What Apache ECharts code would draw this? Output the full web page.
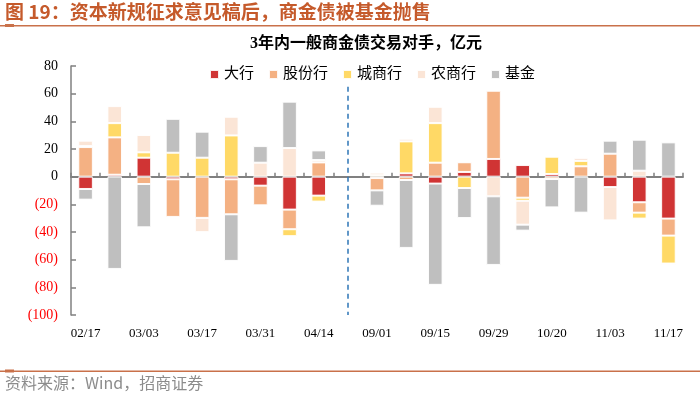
<!DOCTYPE html>
<html>
<head>
<meta charset="utf-8">
<script src="https://cdn.jsdelivr.net/npm/echarts@6/dist/echarts.min.js"></script>
<style>
  html, body { margin: 0; padding: 0; background: #fff; }
  #main { width: 700px; height: 398px; }
</style>
</head>
<body>
<div id="main"></div>
<script>
// weekly dates, index 9 is the gap between the two periods
var categories = ['02/17', '02/24', '03/03', '03/10', '03/17', '03/24', '03/31', '04/07', '04/14', '',
    '09/01', '09/08', '09/15', '09/22', '09/29', '10/13', '10/20', '10/27', '11/03', '11/10', '11/17'];

var dahang = [-8.9, 1.4, 13.7, -1.9, null, -1.9, -6.5, -23.8, -13.7, null,
    -1, 2.4, -5, 3.4, 12.8, 8.4, 1.9, null, -7.5, -18.5, -30.3];
var gufen = [21.4, 27, -5.3, -27.2, -29.8, -25.3, -14.2, -14.2, 10.3, null,
    -8.9, -2.4, 10.1, 7, 49.3, -15.2, -1.7, 7.5, 16.6, -7.5, -12.3];
var chengshang = [0.7, 10.3, 3.9, 17.3, 13.7, 29.8, -0.7, -5, -4.3, null,
    1, 23.1, 28.6, -8.2, null, -2.2, 12.5, 3.9, null, -4.3, -20.2];
var nongshang = [3.9, 12.3, 12.5, null, -10.3, 13.5, 10.1, 20.7, 1.7, null,
    1.9, 1.9, 11.8, 0.5, -14.2, -17.3, 0.7, 2.2, -24.1, 4.3, -1];
var jijin = [-7.7, -66.7, -31.3, 24.5, 18.8, -33.7, 12, 33.5, 7, null,
    -11.1, -49.1, -73.2, -21.7, -49.6, -4.3, -20.5, -26, 9.4, 22.4, 24.8];

var seriesNames = ['大行', '股份行', '城商行', '农商行', '基金'];
var colors = ['#d03434', '#f4b183', '#ffd966', '#fbe5d6', '#bfbfbf'];
var seriesData = [dahang, gufen, chengshang, nongshang, jijin];

var serif = 'Liberation Serif, Noto Sans CJK SC, serif';

var series = [];
for (var i = 0; i < seriesNames.length; ++i) {
    var s = {
        name: seriesNames[i],
        type: 'bar',
        stack: 'total',
        barWidth: '50%',
        data: seriesData[i],
        itemStyle: {
            color: colors[i],
            borderColor: 'rgba(255,255,255,0.9)',
            borderWidth: 1
        }
    };
    if (i == 0) {
        // dashed divider between the two periods
        s.markLine = {
            silent: true,
            symbol: 'none',
            label: { show: false },
            lineStyle: { color: '#2e75b6', type: [5, 4], width: 1.5 },
            data: [[{ coord: [9, 65] }, { coord: [9, -100] }]]
        };
    }
    series.push(s);
}

var option = {
    animation: false,
    backgroundColor: '#fff',
    graphic: [
        {
            type: 'text', left: 5, top: 2,
            style: { text: '图 19：资本新规征求意见稿后，商金债被基金抛售', font: 'bold 19px Noto Sans CJK SC', fill: '#c55a2b' }
        },
        { type: 'rect', shape: { x: 0, y: 25, width: 700, height: 1.5 }, style: { fill: '#c9714a' } },
        { type: 'rect', shape: { x: 5, y: 24, width: 9, height: 3 }, style: { fill: '#c9714a' } },
        {
            type: 'text', left: 250, top: 36,
            style: { text: '3年内一般商金债交易对手，亿元', font: 'bold 16px Liberation Serif, Noto Sans CJK SC', fill: '#000' }
        },
        { type: 'rect', shape: { x: 0, y: 370.5, width: 700, height: 1.5 }, style: { fill: '#c9714a' } },
        { type: 'rect', shape: { x: 5, y: 369.5, width: 9, height: 3 }, style: { fill: '#c9714a' } },
        {
            type: 'text', left: 5, top: 375,
            style: { text: '资料来源：Wind，招商证券', font: '16px Noto Sans CJK SC', fill: '#8c8c8c' }
        }
    ],
    legend: {
        top: 62,
        left: 204,
        itemWidth: 9,
        itemHeight: 9,
        itemGap: 14,
        icon: 'rect',
        textStyle: { fontFamily: serif, fontSize: 15, color: '#000' },
        data: seriesNames
    },
    grid: { left: 71, right: 17, top: 66, bottom: 83 },
    xAxis: [
        {
            type: 'category',
            data: categories,
            axisLine: { onZero: true, lineStyle: { color: '#808080', width: 2 } },
            axisTick: { show: true, inside: true, length: 4, interval: 0, lineStyle: { color: '#808080', width: 1.5 } },
            axisLabel: { show: false },
            splitLine: { show: false }
        },
        {
            type: 'category',
            data: categories,
            position: 'bottom',
            axisLine: { show: false, onZero: false },
            axisTick: { show: false },
            axisLabel: { interval: 1, margin: 12, fontFamily: serif, fontSize: 13, color: '#000' },
            splitLine: { show: false }
        }
    ],
    yAxis: {
        type: 'value',
        min: -100,
        max: 80,
        interval: 20,
        axisLine: { show: true, lineStyle: { color: '#808080', width: 1.5 } },
        axisTick: { show: true, inside: true, length: 5, lineStyle: { color: '#808080', width: 1.5 } },
        splitLine: { show: false },
        axisLabel: {
            margin: 13,
            fontFamily: serif,
            fontSize: 14,
            color: function (v) { return v < 0 ? '#ff0000' : '#000'; },
            formatter: function (v) { return v < 0 ? '(' + (-v) + ')' : '' + v; }
        }
    },
    series: series
};

var chart = echarts.init(document.getElementById('main'));
chart.setOption(option);
</script>
</body>
</html>
